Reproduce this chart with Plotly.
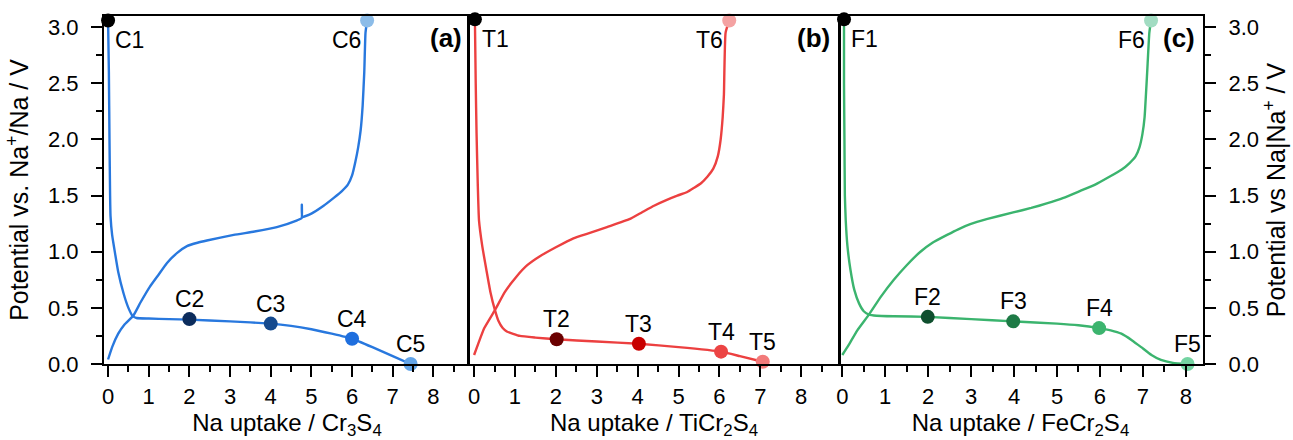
import plotly.graph_objects as go

# ---------------- data ----------------
# Panel (a) Cr3S4
a_dis_x = [0.0, 0.02, 0.035, 0.05, 0.06, 0.1, 0.17, 0.25, 0.38, 0.5, 0.6, 0.7, 1.0, 1.5, 2.0, 3.0, 4.0, 4.5, 5.0, 5.5, 6.0, 6.5, 7.0, 7.44]
a_dis_y = [3.06, 2.6, 2.0, 1.5, 1.32, 1.15, 0.99, 0.82, 0.63, 0.5, 0.43, 0.41, 0.405, 0.40, 0.395, 0.38, 0.36, 0.34, 0.31, 0.27, 0.225, 0.15, 0.07, 0.0]
a_chg_x = [0.0, 0.1, 0.25, 0.4, 0.62, 0.8, 1.03, 1.25, 1.45, 1.7, 1.94, 2.2, 2.43, 3.09, 3.6, 4.15, 4.65, 4.76, 4.765, 4.775, 5.0, 5.3, 5.55, 5.75, 5.9, 6.0, 6.08, 6.15, 6.21, 6.26, 6.3, 6.33, 6.37]
a_chg_y = [0.04, 0.15, 0.27, 0.35, 0.43, 0.55, 0.69, 0.80, 0.90, 0.99, 1.05, 1.08, 1.10, 1.15, 1.18, 1.22, 1.28, 1.30, 1.42, 1.31, 1.34, 1.41, 1.48, 1.54, 1.60, 1.68, 1.80, 1.93, 2.08, 2.3, 2.6, 2.95, 3.06]
a_pts_x = [0.0, 2.0, 4.0, 6.0, 7.44, 6.37]
a_pts_y = [3.06, 0.40, 0.36, 0.225, 0.0, 3.06]
a_labels = ["C1", "C2", "C3", "C4", "C5", "C6"]

# Panel (b) TiCr2S4
b_dis_x = [0.02, 0.04, 0.06, 0.09, 0.12, 0.2, 0.3, 0.4, 0.51, 0.6, 0.7, 0.8, 1.12, 1.5, 2.02, 3.0, 4.03, 5.0, 6.04, 6.5, 7.06]
b_dis_y = [3.07, 2.5, 2.06, 1.6, 1.28, 1.05, 0.84, 0.64, 0.48, 0.38, 0.32, 0.29, 0.25, 0.235, 0.22, 0.20, 0.18, 0.15, 0.11, 0.07, 0.02]
b_chg_x = [0.0, 0.1, 0.25, 0.51, 0.75, 1.04, 1.3, 1.61, 2.0, 2.43, 2.85, 3.25, 3.8, 4.1, 4.4, 4.7, 4.97, 5.2, 5.38, 5.55, 5.71, 5.85, 5.96, 6.03, 6.08, 6.11, 6.15, 6.24]
b_chg_y = [0.08, 0.18, 0.32, 0.48, 0.64, 0.78, 0.88, 0.96, 1.04, 1.12, 1.17, 1.22, 1.29, 1.35, 1.41, 1.46, 1.50, 1.53, 1.57, 1.61, 1.67, 1.74, 1.85, 2.0, 2.2, 2.4, 2.95, 3.06]
b_pts_x = [0.02, 2.02, 4.03, 6.04, 7.06, 6.24]
b_pts_y = [3.07, 0.22, 0.18, 0.11, 0.02, 3.06]
b_labels = ["T1", "T2", "T3", "T4", "T5", "T6"]

# Panel (c) FeCr2S4
c_dis_x = [0.04, 0.04, 0.05, 0.06, 0.08, 0.12, 0.19, 0.28, 0.39, 0.5, 0.62, 0.8, 1.2, 1.99, 3.0, 3.98, 5.0, 5.5, 5.98, 6.25, 6.5, 6.75, 6.96, 7.2, 7.42, 7.7, 8.04]
c_dis_y = [3.07, 2.5, 2.0, 1.5, 1.28, 1.05, 0.84, 0.66, 0.54, 0.47, 0.44, 0.43, 0.425, 0.42, 0.40, 0.38, 0.36, 0.345, 0.32, 0.30, 0.27, 0.21, 0.15, 0.08, 0.036, 0.01, 0.0]
c_chg_x = [0.0, 0.15, 0.35, 0.62, 0.9, 1.2, 1.5, 1.82, 2.1, 2.44, 2.7, 2.98, 3.36, 3.98, 4.4, 4.76, 5.15, 5.53, 5.9, 6.23, 6.5, 6.69, 6.83, 6.92, 6.99, 7.04, 7.1, 7.15, 7.19]
c_chg_y = [0.08, 0.17, 0.30, 0.44, 0.60, 0.75, 0.88, 1.0, 1.08, 1.15, 1.20, 1.245, 1.29, 1.35, 1.39, 1.43, 1.48, 1.54, 1.60, 1.67, 1.73, 1.79, 1.85, 1.93, 2.05, 2.2, 2.6, 2.95, 3.06]
c_pts_x = [0.04, 1.99, 3.98, 5.98, 8.04, 7.19]
c_pts_y = [3.07, 0.42, 0.38, 0.32, 0.0, 3.06]
c_labels = ["F1", "F2", "F3", "F4", "F5", "F6"]

x_ticks = [0, 1, 2, 3, 4, 5, 6, 7, 8]
y_ticks = [0.0, 0.5, 1.0, 1.5, 2.0, 2.5, 3.0]

# ---------------- style ----------------
FONT = "Liberation Sans, Arial, sans-serif"
TICK = 22
line_cols = ["#2878de", "#ec4040", "#3bb46e"]
pt_cols = [
    ["#000000", "#0c2c5c", "#154a8e", "#1f6fde", "#62a4e8", "#8cbce8"],
    ["#000000", "#6a0000", "#c80000", "#ec4444", "#f27a7a", "#f4a2a2"],
    ["#000000", "#0f4f2e", "#1d7a45", "#3cb46e", "#74d4a2", "#a2dcc2"],
]
# label placement: (xanchor, yanchor, xshift, yshift)
place = [("left", "top", 5, -5), ("center", "bottom", 0, 5), ("center", "bottom", 0, 5),
         ("center", "bottom", 0, 5), ("center", "bottom", 0, 5), ("right", "top", -4, -5)]

panels = [
    (a_dis_x, a_dis_y, a_chg_x, a_chg_y, a_pts_x, a_pts_y, a_labels, "x", "y"),
    (b_dis_x, b_dis_y, b_chg_x, b_chg_y, b_pts_x, b_pts_y, b_labels, "x2", "y2"),
    (c_dis_x, c_dis_y, c_chg_x, c_chg_y, c_pts_x, c_pts_y, c_labels, "x3", "y3"),
]

fig = go.Figure()
annotations = []
for i, (dx, dy, cx, cy, px, py, labs, xa, ya) in enumerate(panels):
    for xs, ys in ((dx, dy), (cx, cy)):
        fig.add_trace(go.Scatter(x=xs, y=ys, mode="lines", xaxis=xa, yaxis=ya,
                                 line=dict(color=line_cols[i], width=2.4, shape="spline", smoothing=0.4),
                                 showlegend=False, hoverinfo="skip", cliponaxis=False))
    fig.add_trace(go.Scatter(x=px, y=py, mode="markers", xaxis=xa, yaxis=ya,
                             marker=dict(size=14, color=pt_cols[i], line=dict(width=0)),
                             showlegend=False, cliponaxis=False))
    for j, lab in enumerate(labs):
        xan, yan, xs_, ys_ = place[j]
        annotations.append(dict(x=px[j], y=py[j], xref=xa, yref=ya, text=lab, showarrow=False,
                                xanchor=xan, yanchor=yan, xshift=xs_, yshift=ys_,
                                font=dict(family=FONT, size=23, color="black")))

W = 1099.0
d1 = 366 / W
d2 = 734 / W
doms = [[0, d1], [d1, d2], [d2, 1]]
for k, lab in enumerate(["(a)", "(b)", "(c)"]):
    annotations.append(dict(x=doms[k][1], y=1, xref="paper", yref="paper", text="<b>%s</b>" % lab,
                            showarrow=False, xanchor="right", yanchor="top", xshift=-6, yshift=-5,
                            font=dict(family=FONT, size=26, color="black")))

xtitles = ["Na uptake / Cr<sub>3</sub>S<sub>4</sub>", "Na uptake / TiCr<sub>2</sub>S<sub>4</sub>",
           "Na uptake / FeCr<sub>2</sub>S<sub>4</sub>"]
xranges = [[-0.1, 8.9], [-0.1, 8.9], [-0.1, 8.4]]

def xaxis(k):
    return dict(domain=doms[k], range=xranges[k], anchor=["y", "y2", "y3"][k], automargin=False,
                tickvals=x_ticks, ticks="outside", ticklen=11, tickwidth=2, tickcolor="black",
                minor=dict(dtick=0.5, tick0=0, ticks="outside", ticklen=6, tickwidth=2, tickcolor="black"),
                showline=True, linewidth=2, linecolor="black", mirror=True,
                showgrid=False, zeroline=False, ticklabelstandoff=1,
                tickfont=dict(family=FONT, size=TICK, color="black"),
                title=dict(text=xtitles[k], font=dict(family=FONT, size=24, color="black"), standoff=8))

ycommon = dict(range=[0, 3.1], showgrid=False, zeroline=False, showline=True,
               linecolor="black", automargin=False)

fig.update_layout(
    width=1293, height=440,
    margin=dict(l=104, r=90, t=16, b=76),
    paper_bgcolor="white", plot_bgcolor="white",
    font=dict(family=FONT, size=TICK, color="black"),
    xaxis=xaxis(0), xaxis2=xaxis(1), xaxis3=xaxis(2),
    yaxis=dict(**ycommon, linewidth=2, anchor="x", mirror=False, tickvals=y_ticks, tickformat=".1f", ticks="outside", ticklen=11,
               tickwidth=2, tickcolor="black", ticklabelstandoff=8,
               minor=dict(dtick=0.25, tick0=0, ticks="outside", ticklen=6, tickwidth=2, tickcolor="black"),
               tickfont=dict(family=FONT, size=TICK, color="black"),
               title=dict(text="Potential vs. Na<sup>+</sup>/Na / V", font=dict(family=FONT, size=25, color="black"), standoff=12)),
    yaxis2=dict(**ycommon, linewidth=2.5, anchor="x2", mirror=True, ticks="", showticklabels=False),
    yaxis3=dict(**ycommon, linewidth=2, anchor="x3", mirror=False, side="right", tickvals=y_ticks, tickformat=".1f", ticks="outside",
                ticklen=11, tickwidth=2, tickcolor="black", ticklabelstandoff=8,
                minor=dict(dtick=0.25, tick0=0, ticks="outside", ticklen=6, tickwidth=2, tickcolor="black"),
                tickfont=dict(family=FONT, size=TICK, color="black"),
                title=dict(text="Potential vs Na|Na<sup>+</sup> / V", font=dict(family=FONT, size=25, color="black"), standoff=8)),
    annotations=annotations,
)

fig.write_html("out.html", config={"displayModeBar": False},
               post_script="document.body.style.margin='0';document.body.style.padding='0';document.body.style.overflow='hidden';")
